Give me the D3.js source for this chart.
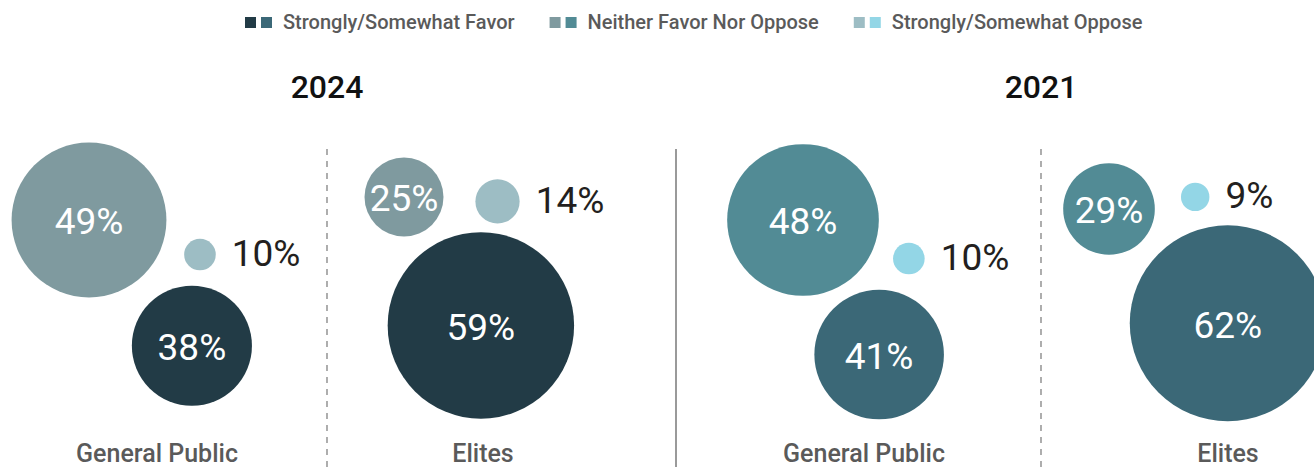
<!DOCTYPE html>
<html>
<head>
<meta charset="utf-8">
<script src="https://cdn.jsdelivr.net/npm/d3@7"></script>
<style>
  html, body { margin: 0; padding: 0; background: #fff; }
  svg { display: block; }
  text { font-family: Roboto, sans-serif; }
</style>
</head>
<body>
<svg id="chart" width="1314" height="467"></svg>
<script>
// Survey results: share of respondents by stance, per year and audience
const years = ["2024", "2021"];
const groups = ["General Public", "Elites"];
const favor = [38, 59, 41, 62];     // Strongly/Somewhat Favor
const neither = [49, 25, 48, 29];   // Neither Favor Nor Oppose
const oppose = [10, 14, 10, 9];     // Strongly/Somewhat Oppose
const legendLabels = ["Strongly/Somewhat Favor", "Neither Favor Nor Oppose", "Strongly/Somewhat Oppose"];

// Colour pairs per stance: [2024 shade, 2021 shade]
const palette = {
  favor:   ["#223b46", "#3b6877"],
  neither: ["#7f9a9f", "#528b95"],
  oppose:  ["#9dbdc4", "#93d6e6"]
};

const W = 1314, H = 467;
const svg = d3.select("#chart");

// Bubble radius grows linearly with the percentage
const r = d3.scaleLinear().domain([0, 100]).range([0, 158]);

// Panel arrangement: anchor of the "neither" bubble, then the other two
// bubbles placed around it at a given angle (degrees) and edge gap.
const layout = [
  { nx: 89,   ny: 220, fAng: 50.7, fGap: 25, oAng: 17.3, oGap: 23, labelX: 157 },
  { nx: 404,  ny: 197, fAng: 59.1, fGap: 17, oAng: 2.7,  oGap: 32, labelX: 483 },
  { nx: 803,  ny: 220, fAng: 60.5, fGap: 14, oAng: 20,   oGap: 21, labelX: 864 },
  { nx: 1109, ny: 209, fAng: 43.9, fGap: 21, oAng: -8,   oGap: 27, labelX: 1228 }
];
const dividers = [
  { x: 327, dashed: true },
  { x: 676, dashed: false },
  { x: 1041, dashed: true }
];

// ---- Legend ----
const legend = svg.append("g").attr("class", "legend");
let lx = 245;
legendLabels.forEach((label, i) => {
  const key = ["favor", "neither", "oppose"][i];
  const g = legend.append("g").attr("transform", `translate(${lx},0)`);
  palette[key].forEach((c, j) => {
    g.append("rect").attr("x", j * 16).attr("y", 17).attr("width", 11).attr("height", 11).attr("fill", c);
  });
  const t = g.append("text")
    .attr("x", 38).attr("y", 28.5)
    .attr("font-size", 20).attr("font-weight", 500)
    .attr("fill", "#5a5a5a")
    .text(label);
  lx += 38 + t.node().getComputedTextLength() + 35;
});

// ---- Dividers ----
svg.selectAll("line.divider").data(dividers).join("line")
  .attr("class", "divider")
  .attr("x1", d => d.x).attr("x2", d => d.x)
  .attr("y1", 149).attr("y2", H)
  .attr("stroke", "#9a9a9a")
  .attr("stroke-width", d => d.dashed ? 1.6 : 2)
  .attr("stroke-dasharray", d => d.dashed ? "6,6" : null);

// ---- Year headers, centred over each pair of panels ----
svg.selectAll("text.year").data(years).join("text")
  .attr("class", "year")
  .attr("x", (d, i) => dividers[i * 2].x)
  .attr("y", 98)
  .attr("text-anchor", "middle")
  .attr("font-size", 32).attr("font-weight", 500)
  .attr("fill", "#111")
  .text(d => d);

// ---- Bubbles ----
const rad = Math.PI / 180;
const panels = layout.map((p, i) => {
  const yi = i < 2 ? 0 : 1;
  const rn = r(neither[i]), rf = r(favor[i]), ro = r(oppose[i]);
  const df = rn + rf + p.fGap, dOp = rn + ro + p.oGap;
  return [
    { key: "neither", v: neither[i], cx: p.nx, cy: p.ny, rr: rn, color: palette.neither[yi] },
    { key: "oppose", v: oppose[i], cx: p.nx + dOp * Math.cos(p.oAng * rad), cy: p.ny + dOp * Math.sin(p.oAng * rad), rr: ro, color: palette.oppose[yi] },
    { key: "favor", v: favor[i], cx: p.nx + df * Math.cos(p.fAng * rad), cy: p.ny + df * Math.sin(p.fAng * rad), rr: rf, color: palette.favor[yi] }
  ];
});
const bubbles = panels.flat();

svg.selectAll("circle.bubble").data(bubbles).join("circle")
  .attr("class", "bubble")
  .attr("cx", d => d.cx).attr("cy", d => d.cy).attr("r", d => d.rr)
  .attr("fill", d => d.color);

// Labels: inside the large bubbles, beside the small "oppose" bubble
svg.selectAll("text.value").data(bubbles).join("text")
  .attr("class", "value")
  .attr("x", d => d.key === "oppose" ? d.cx + d.rr + 16 : d.cx)
  .attr("y", d => d.key === "oppose" ? d.cy - 2 : d.cy + 1)
  .attr("dy", "0.36em")
  .attr("text-anchor", d => d.key === "oppose" ? "start" : "middle")
  .attr("font-size", 37).attr("font-weight", 400)
  .attr("fill", d => d.key === "oppose" ? "#231f20" : "#ffffff")
  .text(d => d.v + "%");

// ---- Audience labels under each panel ----
svg.selectAll("text.group-label").data(layout).join("text")
  .attr("class", "group-label")
  .attr("x", d => d.labelX)
  .attr("y", 462)
  .attr("text-anchor", "middle")
  .attr("font-size", 25).attr("font-weight", 500)
  .attr("fill", "#5a5a5a")
  .text((d, i) => groups[i % 2]);
</script>
</body>
</html>
